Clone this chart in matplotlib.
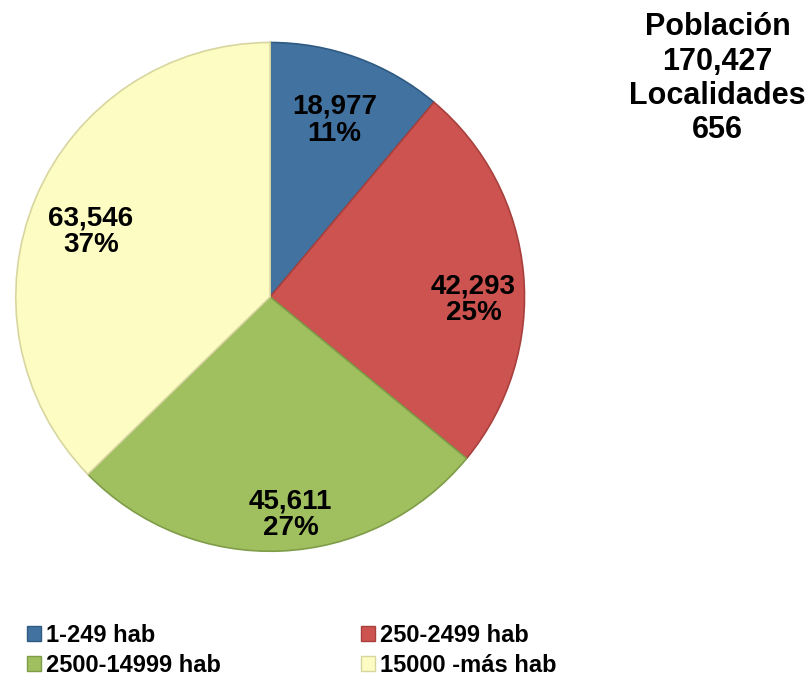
import matplotlib.pyplot as plt
from matplotlib.patches import Patch
import numpy as np

# data
categories = ['1-249 hab', '250-2499 hab', '2500-14999 hab', '15000 -más hab']
poblacion = [18977, 42293, 45611, 63546]
porcentajes = ['11%', '25%', '27%', '37%']
colores = ['#4272a0', '#cc5350', '#a0c060', '#fdfcc2']
bordes = ['#2f5a82', '#a8403d', '#7f9c48', '#d8d6a0']
total_pob = '170,427'
localidades = '656'

plt.rcParams['font.family'] = ['Liberation Sans', 'DejaVu Sans']
plt.rcParams['font.weight'] = 'bold'

fig = plt.figure(figsize=(8.1, 6.77), dpi=100)
ax = fig.add_axes([0.016, 0.182, 0.635, 0.759])

wedges, texts = ax.pie(poblacion, colors=colores, startangle=90, counterclock=False,
                       wedgeprops={'linewidth': 1.2})
for w, b in zip(wedges, bordes):
    w.set_edgecolor(b)
ax.set_xlim(-1.01, 1.01)
ax.set_ylim(-1.01, 1.01)
ax.set_aspect('equal')

# labels: value + percent inside each wedge
dist = [0.74, 0.80, 0.86, 0.75]
giro = [0, -6, 3, 3]   # small angle nudges (deg)
for w, v, p, d, g in zip(wedges, poblacion, porcentajes, dist, giro):
    ang = np.deg2rad((w.theta1 + w.theta2) / 2 + g)
    ax.text(d * np.cos(ang), d * np.sin(ang), f'{v:,}\n{p}', ha='center', va='center',
            fontsize=20, fontweight='bold', linespacing=1.05)

fig.text(0.886, 0.982, f'Población\n{total_pob}\nLocalidades\n{localidades}',
         ha='center', va='top', fontsize=22, fontweight='bold', linespacing=1.19)

handles = [Patch(facecolor=c, edgecolor=b) for c, b in zip(colores, bordes)]
orden = [0, 2, 1, 3]
fig.legend([handles[i] for i in orden], [categories[i] for i in orden],
           loc='upper left', bbox_to_anchor=(0.033, 0.079), ncol=2, frameon=False,
           fontsize=17, handlelength=0.6, handleheight=0.6, handletextpad=0.2,
           columnspacing=5.95, labelspacing=0.33, borderaxespad=0, borderpad=0)

fig.savefig('out.png', dpi=100)
